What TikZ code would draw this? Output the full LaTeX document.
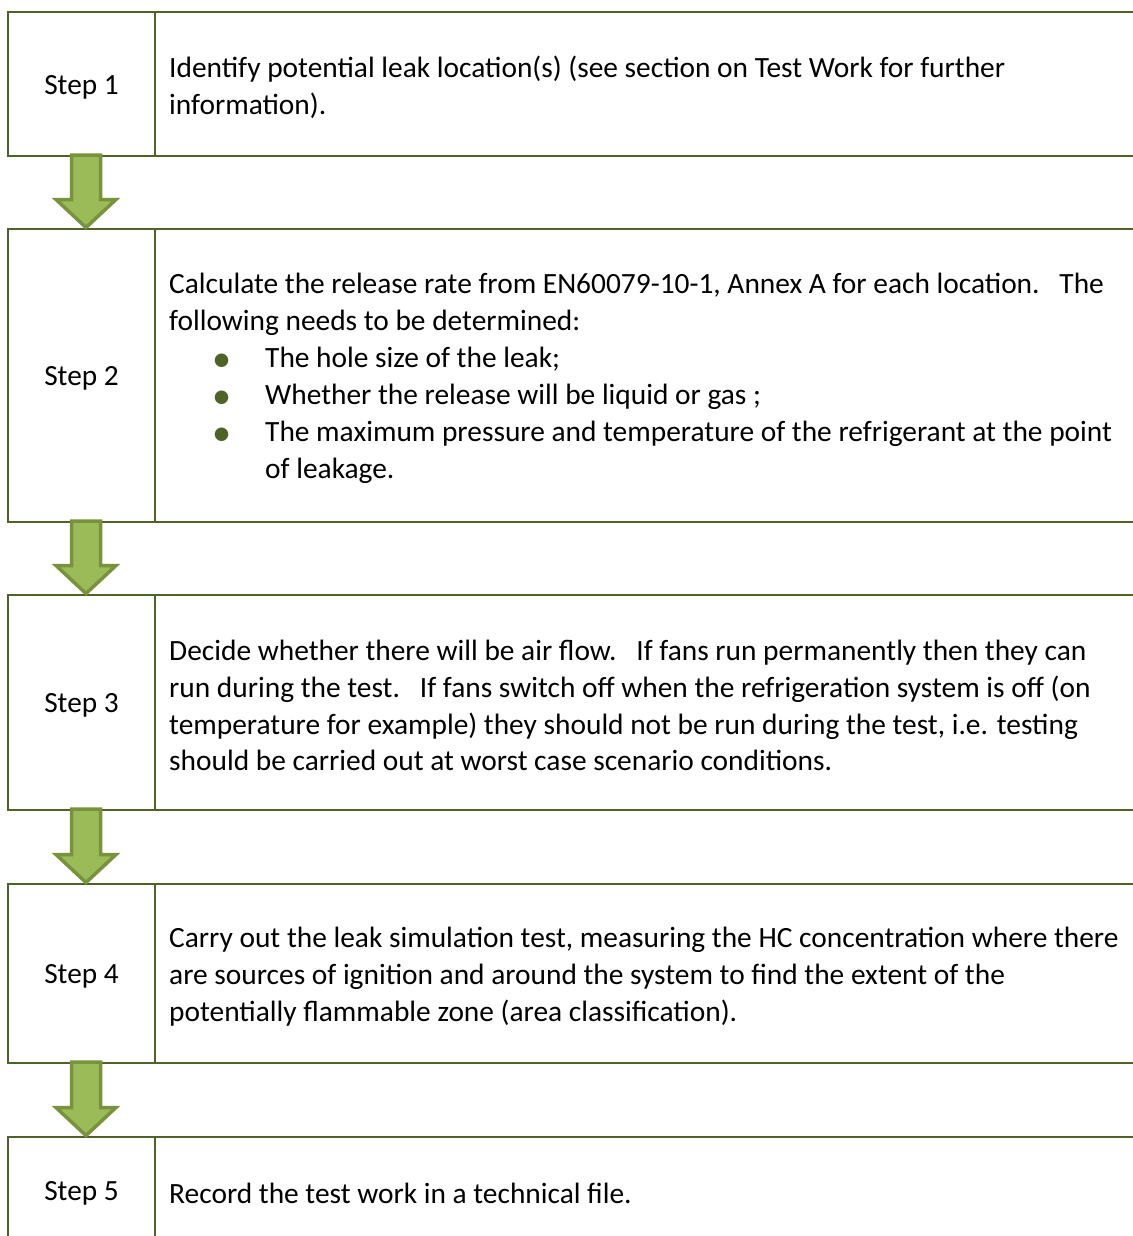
\documentclass[tikz,border=0pt]{standalone}
\usepackage{fontspec}
\setmainfont{Carlito}
\usetikzlibrary{calc}
\definecolor{boxline}{HTML}{4F6228}
\definecolor{arrfill}{HTML}{9BBB59}
\definecolor{arredge}{HTML}{77933C}
\begin{document}
\begin{tikzpicture}[x=1pt,y=-1pt,
  labelcell/.style={draw=boxline, line width=2pt, anchor=north west, minimum width=147pt, inner sep=0pt, outer sep=0pt},
  bodycell/.style={draw=boxline, line width=2pt, anchor=north west, minimum width=1003pt, inner sep=0pt, outer sep=0pt},
  labeltxt/.style={font=\fontsize{29.3}{36.8}\selectfont, inner sep=0pt},
  bodytxt/.style={font=\fontsize{29.4}{36.9}\selectfont, anchor=west, align=left, inner sep=0pt},
  blockarrow/.style={draw=arredge, fill=arrfill, line width=3.5pt, line join=miter}]
\useasboundingbox (0,0) rectangle (1132,1236);
\newcommand\gbul{\hspace*{43pt}\makebox[53pt][l]{\textcolor{boxline}{\raisebox{-0.12em}{\scalebox{1.3}{\textbullet}}}}}
% cells
\node[labelcell, minimum height=144pt] (l1) at (8,12) {};
\node[bodycell, minimum height=144pt] (c1) at (155,12) {};
\node[labelcell, minimum height=293pt] (l2) at (8,229) {};
\node[bodycell, minimum height=293pt] (c2) at (155,229) {};
\node[labelcell, minimum height=215pt] (l3) at (8,595) {};
\node[bodycell, minimum height=215pt] (c3) at (155,595) {};
\node[labelcell, minimum height=179pt] (l4) at (8,884) {};
\node[bodycell, minimum height=179pt] (c4) at (155,884) {};
\node[labelcell, minimum height=107pt] (l5) at (8,1137) {};
\node[bodycell, minimum height=107pt] (c5) at (155,1137) {};
% labels
\foreach \i in {1,...,5}{
  \node[labeltxt] (s\i) at ($(l\i.center)+(0,3)$) {Step \i};
}
% texts
\node[bodytxt] (t1) at ($(c1.west)+(14,3)$) {Identify potential leak location(s) (see section on Test Work for further\\information).};
\node[bodytxt] (t2) at ($(c2.west)+(14,3)$) {Calculate the release rate from EN60079-10-1, Annex A for each location.\ \ \ The\\following needs to be determined:\\\gbul The hole size of the leak;\\\gbul Whether the release will be liquid or gas ;\\\gbul The maximum pressure and temperature of the refrigerant at the point\\\hspace*{96pt}of leakage.};
\node[bodytxt] (t3) at ($(c3.west)+(14,3)$) {Decide whether there will be air flow.\ \ \ If fans run permanently then they can\\run during the test.\ \ \ If fans switch off when the refrigeration system is off (on\\temperature for example) they should not be run during the test, i.e. testing\\should be carried out at worst case scenario conditions.};
\node[bodytxt] (t4) at ($(c4.west)+(14,3)$) {Carry out the leak simulation test, measuring the HC concentration where there\\are sources of ignition and around the system to find the extent of the\\potentially flammable zone (area classification).};
\node[bodytxt] (t5) at ($(c5.west)+(14,3)$) {Record the test work in a technical file.};
% block arrows
\foreach \a/\b in {l1/l2,l2/l3,l3/l4,l4/l5}{
  \draw[blockarrow]
    ($(\a.south)+(-10,-1)$) -- ($(\a.south)+(19,-1)$) -- ($(\b.north)+(19,-29.5)$)
    -- ($(\b.north)+(34.5,-29.5)$) -- ($(\b.north)+(4.5,-1.5)$)
    -- ($(\b.north)+(-25.5,-29.5)$) -- ($(\b.north)+(-10,-29.5)$) -- cycle;
}
\end{tikzpicture}
\end{document}
